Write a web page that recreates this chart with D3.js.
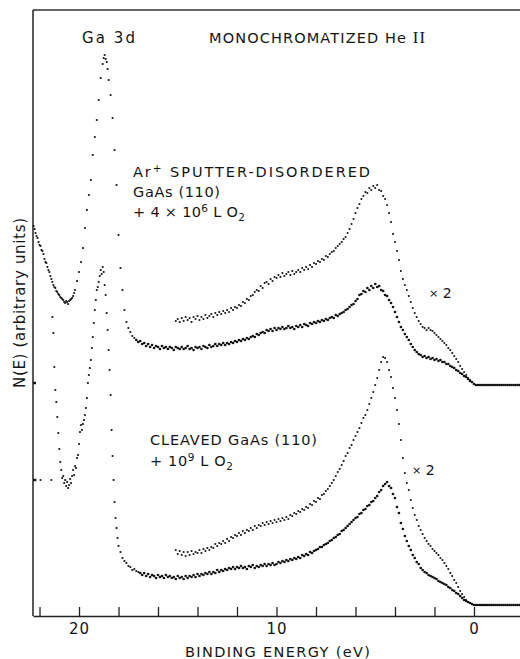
<!DOCTYPE html>
<html>
<head>
<meta charset="utf-8">
<script src="https://cdn.jsdelivr.net/npm/d3@7"></script>
<style>
  html, body { margin: 0; padding: 0; background: #fff; }
  svg { display: block; }
  text { font-family: "DejaVu Sans", "Liberation Sans", Arial, sans-serif; fill: #151515; }
</style>
</head>
<body>
<svg id="chart" width="520" height="659"></svg>
<script>
// Binding-energy axis (eV): tick positions and the ones that carry a number
const energyTicks = [22, 20, 18, 16, 14, 12, 10, 8, 6, 4, 2, 0];
const energyTickLabels = [20, 10, 0];

// Vertical offsets of the two stacked spectra, in N(E) units
const sputteredOffset = 231;
const cleavedOffset = 11;
// Zero markers on the left axis, in N(E) units
const zeroMarks = [233, 136];

// Ar+ sputter-disordered GaAs(110) + 4x10^6 L O2 : Ga 3d region [E, N]
const sputteredCore = [
  [22.3,159],[22.25,156],[22.2,152],[22.15,149],[22.1,147],[22.05,143],[22.0,140],[21.95,139],
  [21.9,135],[21.85,134],[21.8,131],[21.75,126],[21.7,123],[21.65,122],[21.6,118],[21.55,115],
  [21.5,113],[21.45,109],[21.4,106],[21.35,103],[21.3,100],[21.25,98],[21.2,97],[21.15,94],
  [21.1,93],[21.05,91],[21.0,90],[20.95,88],[20.9,87],[20.85,86],[20.8,85],[20.75,83],
  [20.7,82],[20.65,84],[20.6,83],[20.55,81],[20.5,84],[20.45,85],[20.4,86],[20.35,87],
  [20.3,89],[20.25,92],[20.2,95],[20.1,104],[20.0,113],[19.9,123],[19.8,137],[19.7,157],
  [19.6,175],[19.5,190],[19.4,205],[19.3,230],[19.2,248],[19.1,265],[19.0,285],[18.9,307],
  [18.8,321],[18.75,327],[18.7,330],[18.65,326],[18.6,323],[18.55,316],[18.5,305],[18.4,290],
  [18.3,267],[18.2,235],[18.1,200],[18.0,150],[17.9,117],[17.8,95],[17.7,75],[17.6,63],
  [17.5,57],[17.4,53],[17.3,49],[17.2,47]
];

// Sputter-disordered surface: valence band, x1
const sputteredValence = [
  [17.1,45],[17.0,43],[16.9,44],[16.8,41],[16.7,42],[16.6,39],[16.5,41],[16.4,38],[16.3,40],[16.2,37],
  [16.1,39],[16.0,38],[15.9,36],[15.8,39],[15.7,37],[15.6,38],[15.5,36],[15.4,38],[15.3,37],[15.2,35],
  [15.1,38],[15.0,37],[14.9,36],[14.8,38],[14.7,36],[14.6,37],[14.5,39],[14.4,36],[14.3,37],[14.2,35],
  [14.1,38],[14.0,37],[13.9,38],[13.8,36],[13.7,39],[13.6,38],[13.5,37],[13.4,40],[13.3,38],[13.2,39],
  [13.1,41],[13.0,39],[12.9,41],[12.8,40],[12.7,42],[12.6,40],[12.5,42],[12.4,41],[12.3,43],[12.2,42],
  [12.1,44],[12.0,43],[11.9,45],[11.8,44],[11.7,46],[11.6,45],[11.5,47],[11.4,46],[11.3,48],[11.2,49],
  [11.1,48],[11.0,51],[10.9,50],[10.8,52],[10.7,53],[10.6,52],[10.5,55],[10.4,54],[10.3,56],[10.2,54],
  [10.1,57],[10.0,55],[9.9,57],[9.8,56],[9.7,58],[9.6,56],[9.5,57],[9.4,59],[9.3,57],[9.2,58],
  [9.1,56],[9.0,59],[8.9,58],[8.8,60],[8.7,58],[8.6,61],[8.5,60],[8.4,59],[8.3,62],[8.2,61],
  [8.1,63],[8.0,62],[7.9,64],[7.8,63],[7.7,65],[7.6,64],[7.5,66],[7.4,65],[7.3,67],[7.2,68],
  [7.1,67],[7.0,70],[6.9,69],[6.8,71],[6.7,72],[6.6,73],[6.5,75],[6.4,76],[6.3,78],[6.2,80],
  [6.1,81],[6.0,84],[5.9,86],[5.8,90],[5.7,91],[5.6,94],[5.5,93],[5.4,97],[5.3,95],[5.2,99],
  [5.1,97],[5.0,101],[4.9,98],[4.8,99],[4.7,95],[4.6,94],[4.5,90],[4.4,89],[4.3,85],[4.2,82],
  [4.1,78],[4.0,73],[3.9,68],[3.8,63],[3.7,58],[3.6,55],[3.5,51],[3.4,48],[3.3,45],[3.2,41],
  [3.1,38],[3.0,35],[2.9,33],[2.8,31],[2.7,30],[2.6,28],[2.5,29],[2.4,27],[2.3,28],[2.2,26],
  [2.1,27],[2.0,25],[1.9,26],[1.8,24],[1.7,25],[1.6,23],[1.5,23],[1.4,21],[1.3,21],[1.2,19],
  [1.1,18],[1.0,17],[0.9,15],[0.8,14],[0.7,12],[0.6,11],[0.5,9],[0.4,8],[0.3,6],[0.2,4],
  [0.1,3],[0.0,1]
];

// Sputter-disordered surface: valence band, x2
const sputteredValenceX2 = [
  [15.1,64],[15.0,66],[14.9,63],[14.8,67],[14.7,64],[14.6,68],[14.5,65],[14.4,67],[14.3,63],[14.2,68],
  [14.1,66],[14.0,69],[13.9,65],[13.8,68],[13.7,66],[13.6,70],[13.5,67],[13.4,69],[13.3,71],[13.2,68],
  [13.1,72],[13.0,70],[12.9,73],[12.8,71],[12.7,74],[12.6,72],[12.5,75],[12.4,73],[12.3,77],[12.2,75],
  [12.1,78],[12.0,77],[11.9,80],[11.8,79],[11.7,83],[11.6,82],[11.5,86],[11.4,85],[11.3,89],[11.2,90],
  [11.1,93],[11.0,95],[10.9,94],[10.8,99],[10.7,97],[10.6,102],[10.5,103],[10.4,101],[10.3,106],[10.2,104],
  [10.1,108],[10.0,107],[9.9,110],[9.8,108],[9.7,112],[9.6,109],[9.5,111],[9.4,113],[9.3,110],[9.2,114],
  [9.1,111],[9.0,113],[8.9,115],[8.8,113],[8.7,117],[8.6,115],[8.5,118],[8.4,116],[8.3,120],[8.2,118],
  [8.1,122],[8.0,121],[7.9,124],[7.8,123],[7.7,126],[7.6,125],[7.5,129],[7.4,128],[7.3,131],[7.2,133],
  [7.1,134],[7.0,137],[6.9,139],[6.8,141],[6.7,143],[6.6,146],[6.5,148],[6.4,152],[6.3,156],[6.2,161],
  [6.1,166],[6.0,172],[5.9,177],[5.8,181],[5.7,186],[5.6,189],[5.5,193],[5.4,192],[5.3,197],[5.2,195],
  [5.1,199],[5.0,197],[4.9,200],[4.8,195],[4.7,194],[4.6,189],[4.5,186],[4.4,180],[4.3,172],[4.2,163],
  [4.1,151],[4.0,143],[3.9,134],[3.8,125],[3.7,114],[3.6,106],[3.5,100],[3.4,95],[3.3,89],[3.2,83],
  [3.1,77],[3.0,72],[2.9,68],[2.8,64],[2.7,61],[2.6,58],[2.5,57],[2.4,55],[2.3,57],[2.2,55],
  [2.1,54],[2.0,52],[1.9,50],[1.8,48],[1.7,46],[1.6,44],[1.5,42],[1.4,40],[1.3,37],[1.2,35],
  [1.1,32],[1.0,29],[0.9,26],[0.8,23],[0.7,19],[0.6,16],[0.5,13],[0.4,10],[0.3,7],[0.2,5],[0.1,3]
];

// Cleaved GaAs(110) + 10^9 L O2 : Ga 3d region
const cleavedCore = [
  [21.35,288],[21.3,272],[21.25,238],[21.2,215],[21.15,203],[21.1,188],[21.05,172],[21.0,156],
  [20.95,143],[20.9,135],[20.85,127],[20.8,129],[20.75,122],[20.7,125],[20.65,119],[20.6,123],
  [20.55,117],[20.5,120],[20.45,126],[20.4,122],[20.35,129],[20.3,135],[20.25,130],[20.2,139],
  [20.15,137],[20.1,147],[20.05,150],[20.0,161],[19.95,173],[19.9,180],[19.85,175],[19.8,181],
  [19.75,185],[19.7,190],[19.65,197],[19.6,207],[19.55,222],[19.5,230],[19.45,237],[19.4,245],
  [19.35,257],[19.3,268],[19.25,282],[19.2,295],[19.15,305],[19.1,315],[19.05,318],[19.0,323],
  [18.95,329],[18.9,335],[18.85,331],[18.8,338],[18.75,333],[18.7,320],[18.65,310],[18.6,292],
  [18.55,275],[18.5,255],[18.45,235],[18.4,210],[18.35,175],[18.3,149],[18.25,125],[18.2,103],
  [18.15,87],[18.1,77],[18.05,67],[18.0,59],[17.9,53],[17.8,47],[17.7,44],[17.6,42],
  [17.5,39],[17.4,38],[17.3,35],[17.2,36],[17.1,34],[17.0,33]
];
// Reference level drawn beside the cleaved Ga 3d peak
const cleavedCoreRef = [[22.2,125],[21.95,125],[21.4,125]];

// Cleaved surface: valence band, x1
const cleavedValence = [
  [16.9,32],[16.8,30],[16.7,32],[16.6,29],[16.5,31],[16.4,28],[16.3,30],[16.2,29],[16.1,27],[16.0,30],
  [15.9,28],[15.8,29],[15.7,27],[15.6,30],[15.5,28],[15.4,29],[15.3,27],[15.2,28],[15.1,26],[15.0,29],
  [14.9,27],[14.8,28],[14.7,26],[14.6,29],[14.5,27],[14.4,29],[14.3,28],[14.2,30],[14.1,28],[14.0,31],
  [13.9,29],[13.8,31],[13.7,30],[13.6,32],[13.5,31],[13.4,33],[13.3,31],[13.2,33],[13.1,32],[13.0,35],
  [12.9,33],[12.8,35],[12.7,34],[12.6,36],[12.5,35],[12.4,37],[12.3,36],[12.2,38],[12.1,36],[12.0,38],
  [11.9,37],[11.8,39],[11.7,37],[11.6,38],[11.5,36],[11.4,39],[11.3,38],[11.2,40],[11.1,37],[11.0,39],
  [10.9,38],[10.8,40],[10.7,39],[10.6,41],[10.5,39],[10.4,41],[10.3,40],[10.2,42],[10.1,40],[10.0,41],
  [9.9,43],[9.8,42],[9.7,44],[9.6,43],[9.5,45],[9.4,44],[9.3,46],[9.2,45],[9.1,47],[9.0,46],
  [8.9,48],[8.8,47],[8.7,50],[8.6,49],[8.5,51],[8.4,50],[8.3,53],[8.2,52],[8.1,54],[8.0,55],
  [7.9,56],[7.8,58],[7.7,58],[7.6,60],[7.5,61],[7.4,62],[7.3,64],[7.2,65],[7.1,67],[7.0,68],
  [6.9,70],[6.8,71],[6.7,74],[6.6,75],[6.5,77],[6.4,79],[6.3,81],[6.2,83],[6.1,85],[6.0,87],
  [5.9,88],[5.8,91],[5.7,92],[5.6,95],[5.5,96],[5.4,99],[5.3,100],[5.2,103],[5.1,104],[5.0,107],
  [4.9,109],[4.8,113],[4.7,115],[4.6,119],[4.5,121],[4.4,123],[4.3,119],[4.2,117],[4.1,111],[4.0,107],
  [3.9,98],[3.8,92],[3.7,82],[3.6,76],[3.5,69],[3.4,64],[3.3,59],[3.2,55],[3.1,50],[3.0,47],
  [2.9,43],[2.8,41],[2.7,37],[2.6,35],[2.5,33],[2.4,32],[2.3,30],[2.2,29],[2.1,28],[2.0,27],
  [1.9,26],[1.8,24],[1.7,23],[1.6,22],[1.5,21],[1.4,20],[1.3,18],[1.2,17],[1.1,15],[1.0,14],
  [0.9,12],[0.8,11],[0.7,9],[0.6,7],[0.5,5],[0.4,4],[0.3,3],[0.2,2],[0.1,1],[0.0,0]
];

// Cleaved surface: valence band, x2
const cleavedValenceX2 = [
  [15.1,55],[15.0,51],[14.9,54],[14.8,50],[14.7,53],[14.6,49],[14.5,53],[14.4,50],[14.3,54],[14.2,51],
  [14.1,53],[14.0,52],[13.9,55],[13.8,52],[13.7,56],[13.6,54],[13.5,57],[13.4,55],[13.3,58],[13.2,57],
  [13.1,61],[13.0,59],[12.9,62],[12.8,61],[12.7,64],[12.6,62],[12.5,66],[12.4,64],[12.3,68],[12.2,67],
  [12.1,70],[12.0,69],[11.9,72],[11.8,70],[11.7,74],[11.6,72],[11.5,75],[11.4,74],[11.3,77],[11.2,75],
  [11.1,79],[11.0,77],[10.9,80],[10.8,79],[10.7,82],[10.6,80],[10.5,83],[10.4,81],[10.3,84],[10.2,82],
  [10.1,85],[10.0,83],[9.9,86],[9.8,84],[9.7,87],[9.6,85],[9.5,88],[9.4,86],[9.3,90],[9.2,89],
  [9.1,92],[9.0,91],[8.9,94],[8.8,93],[8.7,96],[8.6,95],[8.5,98],[8.4,97],[8.3,101],[8.2,100],
  [8.1,104],[8.0,103],[7.9,107],[7.8,106],[7.7,110],[7.6,111],[7.5,114],[7.4,116],[7.3,119],[7.2,122],
  [7.1,125],[7.0,129],[6.9,133],[6.8,136],[6.7,140],[6.6,144],[6.5,149],[6.4,152],[6.3,157],[6.2,160],
  [6.1,165],[6.0,169],[5.9,173],[5.8,177],[5.7,182],[5.6,187],[5.5,190],[5.4,195],[5.3,201],[5.2,207],
  [5.1,213],[5.0,220],[4.9,227],[4.8,235],[4.7,243],[4.6,248],[4.5,247],[4.4,243],[4.3,235],[4.2,228],
  [4.1,217],[4.0,207],[3.9,195],[3.8,181],[3.7,165],[3.6,147],[3.5,132],[3.4,122],[3.3,115],[3.2,105],
  [3.1,97],[3.0,90],[2.9,85],[2.8,79],[2.7,75],[2.6,71],[2.5,67],[2.4,64],[2.3,61],[2.2,59],
  [2.1,56],[2.0,54],[1.9,52],[1.8,50],[1.7,47],[1.6,45],[1.5,42],[1.4,39],[1.3,36],[1.2,32],
  [1.1,29],[1.0,25],[0.9,22],[0.8,18],[0.7,14],[0.6,11],[0.5,8],[0.4,5],[0.3,3],[0.2,2]
];

// Above the Fermi level both spectra sit on their zero line
const aboveFermi = [
  [-0.1,0],[-0.2,0],[-0.3,0],[-0.4,0],[-0.5,0],[-0.6,0],[-0.7,0],[-0.8,0],[-0.9,0],[-1.0,0],
  [-1.1,0],[-1.2,0],[-1.3,0],[-1.4,0],[-1.5,0],[-1.6,0],[-1.7,0],[-1.8,0],[-1.9,0],[-2.0,0],
  [-2.1,0],[-2.2,0],[-2.3,0]
];

const svg = d3.select("#chart");
const plotLeft = 33, plotRight = 520, plotTop = 10, plotBottom = 616;

const x = d3.scaleLinear().domain([22.33, -2.33]).range([plotLeft, plotRight]);
const y = d3.scaleLinear().domain([0, 606]).range([plotBottom, plotTop]);

const ink = "#141414";
const fontFamily = "'DejaVu Sans', 'Liberation Sans', Arial, sans-serif";

// frame: top rule and left axis
svg.append("line").attr("x1", plotLeft).attr("x2", plotRight).attr("y1", plotTop).attr("y2", plotTop)
  .attr("stroke", "#333").attr("stroke-width", 1.4);
svg.append("line").attr("x1", plotLeft).attr("x2", plotLeft).attr("y1", plotTop).attr("y2", plotBottom)
  .attr("stroke", "#222").attr("stroke-width", 1.5);

// zero markers on the left axis
svg.selectAll("line.zero").data(zeroMarks).join("line").attr("class", "zero")
  .attr("x1", plotLeft).attr("x2", plotLeft + 3)
  .attr("y1", d => y(d)).attr("y2", d => y(d))
  .attr("stroke", ink).attr("stroke-width", 2.5);

// bottom axis with inward ticks
const xAxis = d3.axisBottom(x)
  .tickValues(energyTicks)
  .tickSizeInner(-9)
  .tickSizeOuter(0)
  .tickPadding(7)
  .tickFormat(d => energyTickLabels.includes(d) ? String(d) : "");
const gx = svg.append("g").attr("transform", `translate(0,${plotBottom})`).call(xAxis);
gx.select(".domain").attr("stroke", "#222").attr("stroke-width", 1.5);
gx.selectAll(".tick line").attr("stroke", "#222").attr("stroke-width", 1.3);
gx.selectAll(".tick text")
  .attr("font-family", fontFamily)
  .attr("font-size", 15).attr("fill", ink).attr("letter-spacing", 1);

// spectra as dot plots
function dots(data, offset, r) {
  svg.append("g").selectAll("circle").data(data).join("circle")
    .attr("cx", d => x(d[0]))
    .attr("cy", d => y(d[1] + offset))
    .attr("r", r)
    .attr("fill", ink);
}
dots(sputteredCore, sputteredOffset, 1.1);
dots(sputteredValence, sputteredOffset, 1.35);
dots(sputteredValenceX2, sputteredOffset, 1.05);
dots(aboveFermi, sputteredOffset, 1.35);
dots(cleavedCore, cleavedOffset, 1.1);
dots(cleavedCoreRef, cleavedOffset, 1.05);
dots(cleavedValence, cleavedOffset, 1.35);
dots(cleavedValenceX2, cleavedOffset, 1.05);
dots(aboveFermi, cleavedOffset, 1.35);

// text helper: list of [text, kind] runs
function label(xp, yp, size, width, runs) {
  const t = svg.append("text").attr("x", xp).attr("y", yp).attr("font-size", size);
  if (width) t.attr("textLength", width).attr("lengthAdjust", "spacing");
  let shift = 0;
  runs.forEach(([s, kind]) => {
    const ts = t.append("tspan").text(s);
    let target = 0;
    if (kind === "sup") { target = -0.36 * size; ts.attr("font-size", size * 0.72); }
    else if (kind === "sub") { target = 0.3 * size; ts.attr("font-size", size * 0.72); }
    else if (kind === "small") { target = -0.08 * size; ts.attr("font-size", size * 0.8); }
    else if (kind === "serif") { ts.attr("font-family", "'Liberation Serif', serif").attr("font-size", size * 1.15); }
    ts.attr("dy", target - shift);
    shift = target;
  });
  return t;
}

label(82, 43, 15, 53, [["Ga  3d"]]);
label(209, 43, 14.5, 216, [["MONOCHROMATIZED  He  "], ["II", "serif"]]);
label(133, 177, 14.5, 237, [["Ar"], ["+", "sup"], [" SPUTTER-DISORDERED"]]);
label(133, 197, 14.5, 87, [["GaAs (110)"]]);
label(133, 217, 14.5, 112, [["+ 4 × 10"], ["6", "sup"], [" L O"], ["2", "sub"]]);
label(429, 298, 14, null, [["×", "small"], [" 2"]]);
label(150, 445, 14.5, 167, [["CLEAVED GaAs (110)"]]);
label(150, 466, 14.5, 83, [["+ 10"], ["9", "sup"], [" L O"], ["2", "sub"]]);
label(412, 475, 14, null, [["×", "small"], [" 2"]]);

// axis titles
label(185, 657, 14.5, 185, [["BINDING ENERGY (eV)"]]);
svg.append("text")
  .attr("transform", "translate(25,303) rotate(-90)")
  .attr("text-anchor", "middle")
  .attr("font-size", 15)
  .attr("textLength", 170).attr("lengthAdjust", "spacing")
  .text("N(E) (arbitrary units)");
</script>
</body>
</html>
